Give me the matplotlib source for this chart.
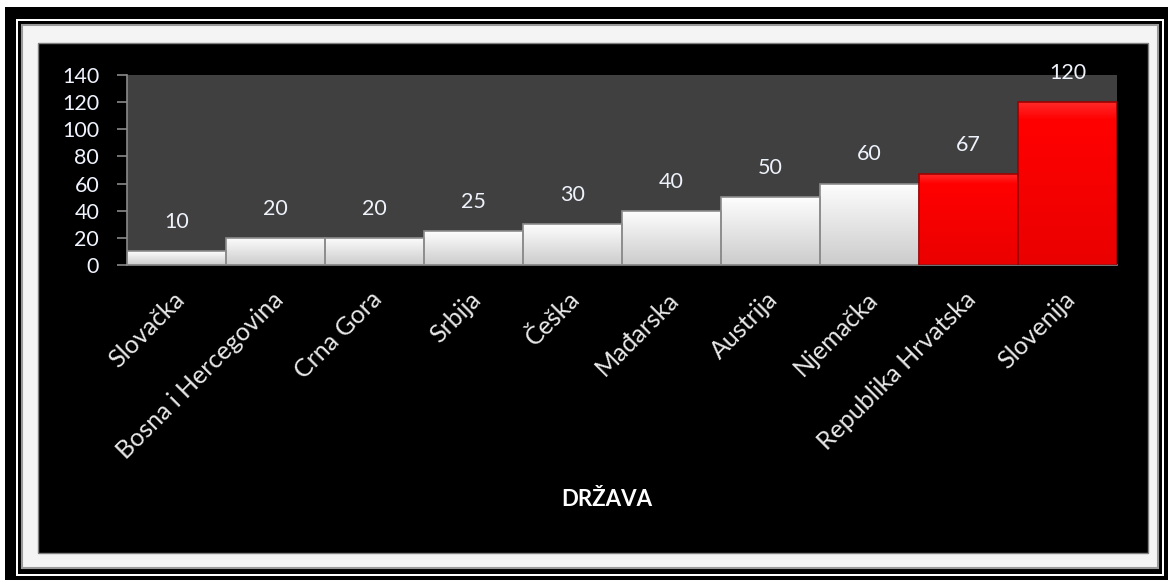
import matplotlib.pyplot as plt
import numpy as np
from matplotlib.patches import Rectangle
from matplotlib.transforms import ScaledTranslation

countries = ['Slovačka', 'Bosna i Hercegovina', 'Crna Gora', 'Srbija', 'Češka',
             'Mađarska', 'Austrija', 'Njemačka', 'Republika Hrvatska', 'Slovenija']
values = [10, 20, 20, 25, 30, 40, 50, 60, 67, 120]
highlight = ['Republika Hrvatska', 'Slovenija']
yticks = [0, 20, 40, 60, 80, 100, 120, 140]

plt.rcParams['font.family'] = ['Lato', 'DejaVu Sans']

W, H = 1171, 581
fig = plt.figure(figsize=(W / 100, H / 100), dpi=100, facecolor='white')


def frame(x0, y0, x1, y1, color, ec='none', lw=0):
    fig.patches.append(Rectangle((x0 / W, 1 - y1 / H), (x1 - x0) / W, (y1 - y0) / H,
                                 transform=fig.transFigure, facecolor=color,
                                 edgecolor=ec, linewidth=lw, zorder=-10))


# picture frame around the chart
frame(5, 7, 1168, 580, 'black')
frame(16, 19, 1164, 576, 'white')
frame(18, 21, 1162, 574, 'black')
frame(22, 25, 1158, 568, '#f4f4f4', ec='#9a9a9a', lw=1.5)
frame(38, 43, 1148, 553, 'black', ec='#808080', lw=1)

ax = fig.add_axes([127 / W, 1 - 265 / H, (1117 - 127) / W, (265 - 75) / H])
ax.set_facecolor('#404040')

x = np.arange(len(countries))
cols = ['#ff0000' if c in highlight else '#ededed' for c in countries]
edges = ['#a00000' if c in highlight else '#8c8c8c' for c in countries]
bars = ax.bar(x, values, width=1.0, color=cols, linewidth=0, zorder=2)

# soft vertical shading on the bars
for b, c in zip(bars, countries):
    if c in highlight:
        grad = np.array([[1.0, 0.15, 0.15], [1.0, 0.0, 0.0], [0.92, 0.0, 0.0]])
    else:
        grad = np.array([[1.0, 1.0, 1.0], [0.97, 0.97, 0.97], [0.80, 0.80, 0.80]])
    img = np.concatenate([np.linspace(grad[0], grad[1], 8), np.linspace(grad[1], grad[2], 60)])
    img = img[:, None, :]
    im = ax.imshow(img, extent=[b.get_x(), b.get_x() + b.get_width(), 0, b.get_height()],
                   aspect='auto', zorder=2.5, origin='upper')
    im.set_clip_path(b)

# bar outlines on top of the shading
ax.bar(x, values, width=1.0, fill=False, edgecolor=edges, linewidth=1.2, zorder=3)

for xi, v in zip(x, values):
    ax.annotate(str(v), (xi, v), xytext=(0, 21), textcoords='offset points',
                ha='center', va='center', fontsize=15.5, color='#eef2fa', zorder=5)

ax.set_xlim(-0.5, len(countries) - 0.5)
ax.set_ylim(0, 140)
ax.set_yticks(yticks)
ax.tick_params(axis='y', colors='#8a8a8a', length=7, width=1.2, labelcolor='#f0f4ff',
               labelsize=15.5, pad=13)
ax.tick_params(axis='x', length=0, labelcolor='#e8e8e8', labelsize=18, pad=22)
ax.set_xticks(x)
ax.set_xticklabels(countries, rotation=45, ha='right', va='center', rotation_mode='anchor')
off = ScaledTranslation(4 / 100, 0, fig.dpi_scale_trans)
for lab in ax.get_xticklabels():
    lab.set_transform(lab.get_transform() + off)

for s in ['top', 'right']:
    ax.spines[s].set_visible(False)
for s in ['left', 'bottom']:
    ax.spines[s].set_color('#8a8a8a')
    ax.spines[s].set_linewidth(1.2)

fig.text(607 / W, 1 - 500 / H, 'DRŽAVA', ha='center', va='center', fontsize=16,
         fontweight='bold', color='white')

fig.savefig('out.png', dpi=100, facecolor=fig.get_facecolor())
